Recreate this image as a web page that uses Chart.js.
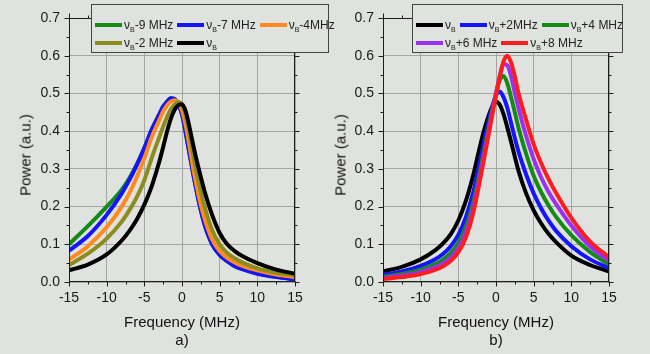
<!DOCTYPE html>
<html><head><meta charset="utf-8">
<script src="https://cdn.jsdelivr.net/npm/chart.js@4"></script>
<style>
html,body{margin:0;padding:0;background:#dfe2de;width:650px;height:354px;overflow:hidden;font-family:"Liberation Sans",Arial,sans-serif;}
.panel{position:absolute;top:0;width:325px;height:354px;}
.t{position:absolute;color:#111;font-size:15px;white-space:nowrap;transform:translate(-50%,-50%);line-height:1;}
.ty{transform:translate(-50%,-50%) rotate(-90deg);}
.legend{position:absolute;top:4px;height:49px;box-sizing:border-box;border:1px solid #444;background:#dfe2de;font-size:12px;color:#222;}
.row{position:absolute;left:3px;display:flex;align-items:center;white-space:nowrap;height:14px;}
.item{display:flex;align-items:center;margin-right:4px;}
.sw{width:27px;height:4px;margin-right:2px;}
sub{font-size:7px;vertical-align:-3px;line-height:0;}
</style></head>
<body>
<div class="panel" style="left:0"><canvas id="cA" width="325" height="354"></canvas></div>
<div class="panel" style="left:325px"><canvas id="cB" width="325" height="354"></canvas></div>
<div class="t ty" style="left:25px;top:155px">Power (a.u.)</div>
<div class="t ty" style="left:340px;top:155px">Power (a.u.)</div>
<div class="t" style="left:182px;top:321px">Frequency (MHz)</div>
<div class="t" style="left:182px;top:339px">a)</div>
<div class="t" style="left:496px;top:321px">Frequency (MHz)</div>
<div class="t" style="left:496px;top:339px">b)</div>
<div class="legend" id="legA" style="left:91px;width:238px"></div>
<div class="legend" id="legB" style="left:412px;width:211px"></div>
<script>
// Frequency grid (MHz)
const freq = [-15,-12.5,-10,-8,-7,-6,-5,-4,-3,-2.5,-2,-1.5,-1,-0.5,0,0.5,1,1.5,2,2.5,3,4,5,6,7,8,10,12.5,15];
const xTickStep = 5;
const yTickStep = 0.1;

// Panel a)
const aLabels = ['-9 MHz','-7 MHz','-4MHz','-2 MHz',''];
const aColors = ['#168a16','#1414ff','#ff8a1e','#8c8c1e','#000000'];
const aMinus9 = [0.1,0.148,0.2,0.245,0.275,0.312,0.355,0.405,0.445,0.465,0.478,0.487,0.485,0.47,0.445,0.395,0.34,0.285,0.235,0.19,0.152,0.1,0.072,0.055,0.042,0.034,0.023,0.014,0.008];
const aMinus7 = [0.083,0.122,0.178,0.235,0.27,0.31,0.355,0.405,0.445,0.465,0.478,0.487,0.485,0.47,0.445,0.395,0.34,0.285,0.235,0.19,0.152,0.1,0.072,0.055,0.042,0.034,0.022,0.013,0.007];
const aMinus4 = [0.059,0.095,0.145,0.2,0.235,0.278,0.328,0.385,0.43,0.452,0.468,0.478,0.482,0.475,0.455,0.415,0.36,0.3,0.25,0.205,0.168,0.113,0.082,0.064,0.052,0.043,0.031,0.02,0.013];
const aMinus2 = [0.045,0.075,0.115,0.16,0.19,0.225,0.27,0.33,0.385,0.412,0.437,0.457,0.47,0.477,0.47,0.44,0.39,0.335,0.285,0.24,0.2,0.138,0.1,0.077,0.063,0.052,0.036,0.025,0.018];
const aNuB   = [0.031,0.046,0.073,0.11,0.135,0.166,0.205,0.255,0.32,0.358,0.398,0.432,0.456,0.469,0.471,0.452,0.41,0.362,0.318,0.278,0.24,0.178,0.13,0.1,0.082,0.069,0.05,0.033,0.022];

// Panel b)
const bLabels = ['','+2MHz','+4 MHz','+6 MHz','+8 MHz'];
const bColors = ['#000000','#1414ff','#168a16','#9a30f0','#ff1c1c'];
const bNuB   = [0.028,0.04,0.06,0.085,0.103,0.127,0.163,0.215,0.285,0.328,0.37,0.408,0.44,0.465,0.478,0.47,0.445,0.41,0.372,0.332,0.294,0.235,0.19,0.155,0.127,0.105,0.07,0.045,0.028];
const bPlus2 = [0.019,0.028,0.043,0.061,0.075,0.095,0.125,0.172,0.24,0.285,0.332,0.38,0.424,0.465,0.495,0.505,0.49,0.462,0.422,0.382,0.345,0.285,0.235,0.195,0.162,0.135,0.095,0.06,0.037];
const bPlus4 = [0.014,0.021,0.033,0.048,0.06,0.077,0.104,0.147,0.213,0.258,0.306,0.356,0.406,0.455,0.5,0.535,0.546,0.527,0.49,0.45,0.408,0.34,0.282,0.238,0.202,0.172,0.124,0.079,0.047];
const bPlus6 = [0.011,0.017,0.027,0.04,0.05,0.065,0.09,0.132,0.198,0.245,0.295,0.346,0.398,0.45,0.5,0.545,0.578,0.575,0.545,0.502,0.46,0.387,0.326,0.277,0.238,0.206,0.15,0.094,0.056];
const bPlus8 = [0.008,0.013,0.021,0.033,0.042,0.056,0.079,0.118,0.185,0.232,0.283,0.335,0.388,0.442,0.495,0.545,0.585,0.6,0.582,0.545,0.5,0.43,0.365,0.315,0.272,0.235,0.17,0.107,0.066];

const FONT = '"Liberation Sans", Arial, sans-serif';

const frameTicks = {
  id: 'frameTicks',
  afterDraw(chart) {
    const {ctx, chartArea: a, scales: {x, y}} = chart;
    const L = Math.round(a.left) + 0.5, R = Math.round(a.right) - 0.5;
    const T = Math.round(a.top) + 0.5, B = Math.round(a.bottom) - 0.5;
    ctx.save();
    ctx.strokeStyle = '#1e1e1e';
    ctx.lineWidth = 1;
    ctx.strokeRect(L, T, R - L, B - T);
    ctx.beginPath();
    const xt = x.ticks.map(t => t.value);
    const yt = y.ticks.map(t => t.value);
    const tk = (vals) => {
      const out = [];
      vals.forEach((v, i) => { out.push([v, 5]); if (i < vals.length - 1) out.push([(v + vals[i + 1]) / 2, 3]); });
      return out;
    };
    tk(xt).forEach(([v, len]) => {
      const p = Math.round(x.getPixelForValue(v)) + 0.5;
      ctx.moveTo(p, B); ctx.lineTo(p, B + len);
      ctx.moveTo(p, T); ctx.lineTo(p, T - len);
    });
    tk(yt).forEach(([v, len]) => {
      const p = Math.round(y.getPixelForValue(v)) + 0.5;
      ctx.moveTo(L, p); ctx.lineTo(L - len, p);
      ctx.moveTo(R, p); ctx.lineTo(R + len, p);
    });
    ctx.stroke();
    ctx.restore();
  }
};

function makeChart(id, series, colors, yWidth, padRight) {
  const n = series.length;
  return new Chart(document.getElementById(id), {
    type: 'line',
    data: {
      datasets: series.map((s, i) => ({
        data: freq.map((f, k) => ({x: f, y: s[k]})),
        borderColor: colors[i],
        borderWidth: 4,
        pointRadius: 0,
        cubicInterpolationMode: 'monotone',
        fill: false,
        order: n - i
      }))
    },
    options: {
      responsive: false,
      animation: false,
      devicePixelRatio: 1,
      layout: {padding: {left: 0, top: 18, right: padRight, bottom: 0}},
      plugins: {legend: {display: false}, tooltip: {enabled: false}},
      scales: {
        x: {
          type: 'linear', min: -15, max: 15,
          ticks: {stepSize: xTickStep, padding: 8, color: '#1a1a1a', font: {family: FONT, size: 14}},
          grid: {color: '#a4a6a4', lineWidth: 1, drawTicks: false},
          border: {display: false},
          afterFit(s) { s.height = 72; }
        },
        y: {
          type: 'linear', min: 0, max: 0.7,
          ticks: {stepSize: yTickStep, padding: 9, color: '#1a1a1a', font: {family: FONT, size: 14},
                  callback: v => v.toFixed(1)},
          grid: {color: '#a4a6a4', lineWidth: 1, drawTicks: false},
          border: {display: false},
          afterFit(s) { s.width = yWidth; }
        }
      }
    },
    plugins: [frameTicks]
  });
}

const chartA = makeChart('cA', [aMinus9, aMinus7, aMinus4, aMinus2, aNuB], aColors, 69, 30);
const chartB = makeChart('cB', [bNuB, bPlus2, bPlus4, bPlus6, bPlus8], bColors, 58, 41);

function buildLegend(el, labels, colors, rows) {
  let idx = 0;
  rows.forEach((cnt, r) => {
    const row = document.createElement('div');
    row.className = 'row';
    row.style.top = (r === 0 ? 12.5 : 31) + 'px';
    for (let k = 0; k < cnt; k++, idx++) {
      const it = document.createElement('div');
      it.className = 'item';
      const sw = document.createElement('span');
      sw.className = 'sw';
      sw.style.background = colors[idx];
      const tx = document.createElement('span');
      tx.innerHTML = 'ν<sub>B</sub>' + labels[idx];
      it.appendChild(sw); it.appendChild(tx);
      row.appendChild(it);
    }
    el.appendChild(row);
  });
}
buildLegend(document.getElementById('legA'), aLabels, aColors, [3, 2]);
buildLegend(document.getElementById('legB'), bLabels, bColors, [3, 2]);
</script>
</body></html>
